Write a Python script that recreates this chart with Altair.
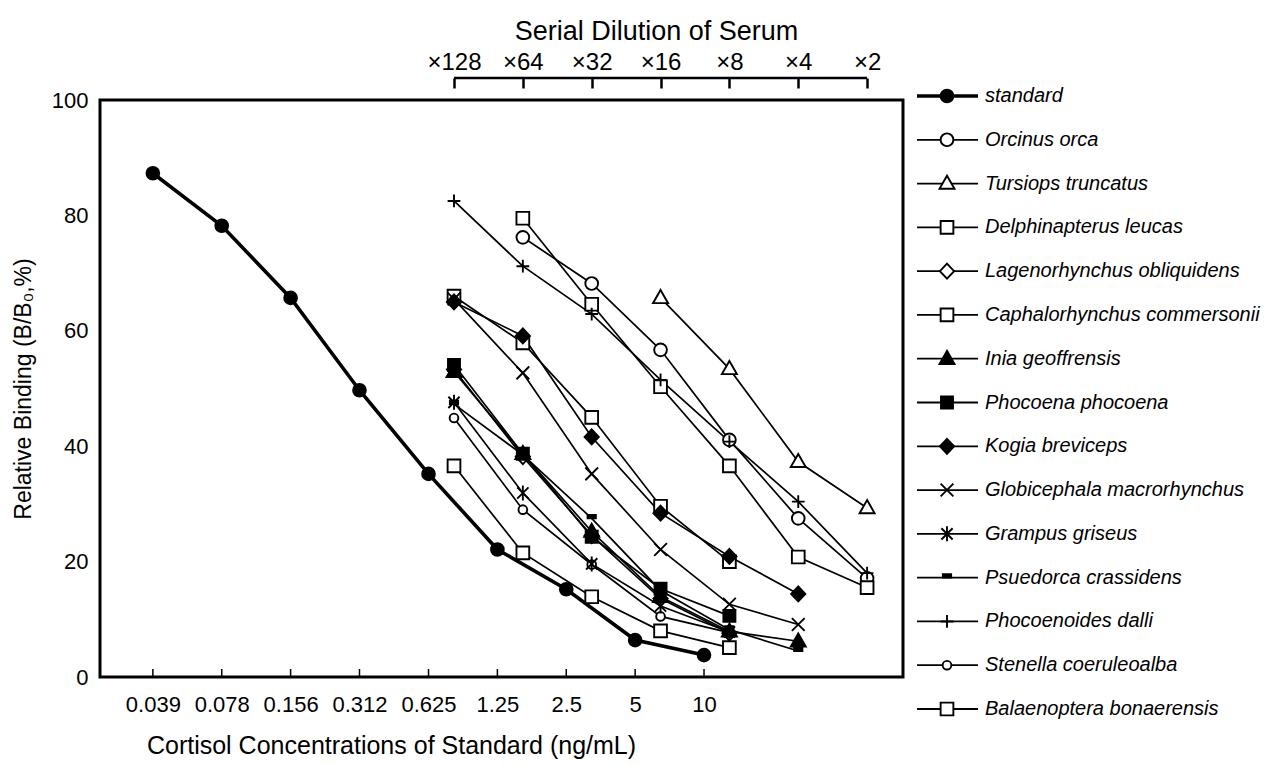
import altair as alt
import pandas as pd

# ---------------- data ----------------
conc = [0.039, 0.078, 0.156, 0.312, 0.625, 1.25, 2.5, 5, 10]
standard = [87.3, 78.2, 65.7, 49.7, 35.2, 22.1, 15.2, 6.4, 3.8]

dilutions = [128, 64, 32, 16, 8, 4, 2]
dil_labels = ["×128", "×64", "×32", "×16", "×8", "×4", "×2"]
y_ticks = [0, 20, 40, 60, 80, 100]

species = [
    "standard",
    "Orcinus orca",
    "Tursiops truncatus",
    "Delphinapterus leucas",
    "Lagenorhynchus obliquidens",
    "Caphalorhynchus commersonii",
    "Inia geoffrensis",
    "Phocoena phocoena",
    "Kogia breviceps",
    "Globicephala macrorhynchus",
    "Grampus griseus",
    "Psuedorca crassidens",
    "Phocoenoides dalli",
    "Stenella coeruleoalba",
    "Balaenoptera bonaerensis",
]

# values at x128, x64, x32, x16, x8, x4, x2 (None = not measured)
orcinus = [None, 76.2, 68.2, 56.7, 41.1, 27.5, 17.1]
tursiops = [None, None, None, 65.7, 53.4, 37.3, 29.3]
delphinapterus = [None, 79.5, 64.6, 50.3, 36.6, 20.8, 15.5]
lagenorhynchus = [53.3, 38.2, 24.5, 13.6, 7.6, None, None]
caphalorhynchus = [66.0, 57.9, 45.0, 29.6, 20.0, None, None]
inia = [52.9, 38.7, 25.2, 13.9, 7.9, 6.2, None]
phocoena = [54.1, 38.7, 24.3, 15.3, 10.6, None, None]
kogia = [65.0, 59.1, 41.6, 28.4, 20.9, 14.4, None]
globicephala = [65.5, 52.7, 35.2, 22.1, 12.6, 9.1, None]
grampus = [47.6, 31.9, 19.6, 12.3, 7.8, None, None]
psuedorca = [47.3, 38.5, 27.5, 15.0, 8.2, 4.5, None]
dalli = [82.5, 71.2, 62.9, 51.5, 40.8, 30.4, 18.0]
stenella = [44.9, 29.0, 19.5, 10.5, 7.7, None, None]
balaenoptera = [36.6, 21.5, 13.9, 8.0, 5.1, None, None]

serum = {
    "Orcinus orca": orcinus,
    "Tursiops truncatus": tursiops,
    "Delphinapterus leucas": delphinapterus,
    "Lagenorhynchus obliquidens": lagenorhynchus,
    "Caphalorhynchus commersonii": caphalorhynchus,
    "Stenella coeruleoalba": stenella,
    "Balaenoptera bonaerensis": balaenoptera,
    "Globicephala macrorhynchus": globicephala,
    "Grampus griseus": grampus,
    "Phocoenoides dalli": dalli,
    "Psuedorca crassidens": psuedorca,
    "Inia geoffrensis": inia,
    "Phocoena phocoena": phocoena,
    "Kogia breviceps": kogia,
}

std_df = pd.DataFrame({"conc": conc, "binding": standard, "species": "standard"})
rows = []
for name, vals in serum.items():
    for d, v in zip(dilutions, vals):
        if v is not None:
            rows.append({"species": name, "dilution": d, "binding": v})
ser_df = pd.DataFrame(rows)
leg_df = pd.DataFrame({"species": species})
tick_df = pd.DataFrame({"conc": conc})
bracket_df = pd.DataFrame({"d1": [dilutions[0]], "d2": [dilutions[-1]]})

# ---------------- styles ----------------
FONT = "Liberation Sans"
W, H = 803, 577


def circ(r):
    return f"M{-r},0A{r},{r} 0 1,1 {r},0A{r},{r} 0 1,1 {-r},0Z"


SQ = "M-0.85,-0.85L0.85,-0.85L0.85,0.85L-0.85,0.85Z"
TRI = "M0,-1.05L1,0.7L-1,0.7Z"
DIA = "M0,-1L0.95,0L0,1L-0.95,0Z"
shape_map = {
    "standard": circ(0.85),
    "Orcinus orca": circ(0.85),
    "Tursiops truncatus": TRI,
    "Delphinapterus leucas": SQ,
    "Lagenorhynchus obliquidens": DIA,
    "Caphalorhynchus commersonii": SQ,
    "Inia geoffrensis": TRI,
    "Phocoena phocoena": "M-0.8,-0.8L0.8,-0.8L0.8,0.8L-0.8,0.8Z",
    "Kogia breviceps": DIA,
    "Globicephala macrorhynchus": "M-0.85,-0.85L0.85,0.85M-0.85,0.85L0.85,-0.85",
    "Grampus griseus": "M-0.75,-0.75L0.75,0.75M-0.75,0.75L0.75,-0.75M0,-1L0,1",
    "Psuedorca crassidens": "M-0.55,-0.45L0.55,-0.45L0.55,0L-0.55,0Z",
    "Phocoenoides dalli": "M-0.85,0L0.85,0M0,-0.85L0,0.85",
    "Stenella coeruleoalba": circ(0.58),
    "Balaenoptera bonaerensis": SQ,
}
filled = {"standard", "Inia geoffrensis", "Phocoena phocoena", "Kogia breviceps",
          "Psuedorca crassidens"}
shape_scale = alt.Scale(domain=species, range=[shape_map[s] for s in species])
fill_scale = alt.Scale(domain=species,
                       range=["black" if s in filled else "white" for s in species])

conc_dom = [0.02291, 74.09]
dil_dom = [1.3934, 4518]


def xc(axis=None):
    return alt.X("conc:Q", scale=alt.Scale(type="log", domain=conc_dom, nice=False), axis=axis)


def xd(axis=None, field="dilution"):
    return alt.X(f"{field}:Q",
                 scale=alt.Scale(type="log", domain=dil_dom, reverse=True, nice=False),
                 axis=axis)


def yb(axis=None):
    return alt.Y("binding:Q", scale=alt.Scale(domain=[0, 100], nice=False), axis=axis)


bottom_axis = alt.Axis(values=conc, format="~g", orient="bottom", domain=False, ticks=False,
                       grid=False, labelFontSize=22, labelPadding=17, labelFlush=False,
                       labelOverlap=False,
                       title="Cortisol Concentrations of Standard (ng/mL)",
                       titleFontSize=25, titlePadding=18, titleX=291)
lab_expr = " : ".join(f"datum.value == {d} ? '{l}'" for d, l in zip(dilutions, dil_labels)) + " : ''"
top_axis = alt.Axis(values=dilutions, orient="top", labelExpr=lab_expr, offset=12, domain=False,
                    tickSize=10, tickWidth=2.5, tickColor="black", grid=False,
                    labelFontSize=24, labelPadding=4, labelFlush=False, labelOverlap=False,
                    title="Serial Dilution of Serum", titleFontSize=27, titlePadding=5,
                    titleX=556)
left_axis = alt.Axis(values=y_ticks, domain=False, ticks=False, grid=False, labelFontSize=22,
                     labelPadding=12, title="Relative Binding (B/B\u2080,%)", titleFontSize=23,
                     titlePadding=16)

# ---------------- layers ----------------
bracket = alt.Chart(bracket_df).mark_rule(color="black", strokeWidth=2.5).encode(
    x=xd(None, "d1"), x2="d2:Q", y=alt.value(-22))

ticks = alt.Chart(tick_df).mark_rule(color="black", strokeWidth=1.5).encode(
    x=xc(None), y=alt.value(H), y2=alt.value(H - 8))

ser_lines = alt.Chart(ser_df).mark_line(color="black", strokeWidth=1.7).encode(
    x=xd(top_axis), y=yb(None), detail="species:N")

std_line = alt.Chart(std_df).mark_line(color="black", strokeWidth=3.6).encode(
    x=xc(bottom_axis), y=yb(left_axis))

pt_kw = dict(filled=True, stroke="black", strokeWidth=1.9, size=225, opacity=1)

ser_pts = alt.Chart(ser_df).mark_point(**pt_kw).encode(
    x=xd(None), y=yb(None),
    shape=alt.Shape("species:N", scale=shape_scale, legend=None),
    fill=alt.Fill("species:N", scale=fill_scale, legend=None))

std_pts = alt.Chart(std_df).mark_point(**pt_kw).encode(
    x=xc(None), y=yb(None),
    shape=alt.Shape("species:N", scale=shape_scale, legend=None),
    fill=alt.Fill("species:N", scale=fill_scale, legend=None))

ly = alt.Y("species:N", sort=species,
           scale=alt.Scale(type="point", domain=species, range=[-4, 609], padding=0),
           axis=None)

leg_rule = alt.Chart(leg_df).mark_rule(color="black").encode(
    x=alt.value(W + 14), x2=alt.value(W + 75), y=ly,
    strokeWidth=alt.condition("datum.species == 'standard'", alt.value(3.6), alt.value(1.8)))

leg_pts = alt.Chart(leg_df).mark_point(**pt_kw).encode(
    x=alt.value(W + 44), y=ly,
    shape=alt.Shape("species:N", scale=shape_scale, legend=None),
    fill=alt.Fill("species:N", scale=fill_scale, legend=None))

leg_text = alt.Chart(leg_df).mark_text(align="left", baseline="middle", font=FONT, fontSize=20,
                                       fontStyle="italic", color="black").encode(
    x=alt.value(W + 82), y=ly, text="species:N")

chart = alt.layer(
    bracket, ticks, ser_lines, std_line, ser_pts, std_pts, leg_rule, leg_pts, leg_text
).resolve_scale(
    x="independent", y="independent"
).properties(
    width=W, height=H,
    padding={"left": 12, "top": 17, "right": 2, "bottom": 5},
).configure_view(
    stroke="black", strokeWidth=3
).configure_axis(
    labelFont=FONT, titleFont=FONT, labelColor="black", titleColor="black",
    titleFontWeight="normal"
)

chart.save("out.html", embed_options={"renderer": "svg", "actions": False})
